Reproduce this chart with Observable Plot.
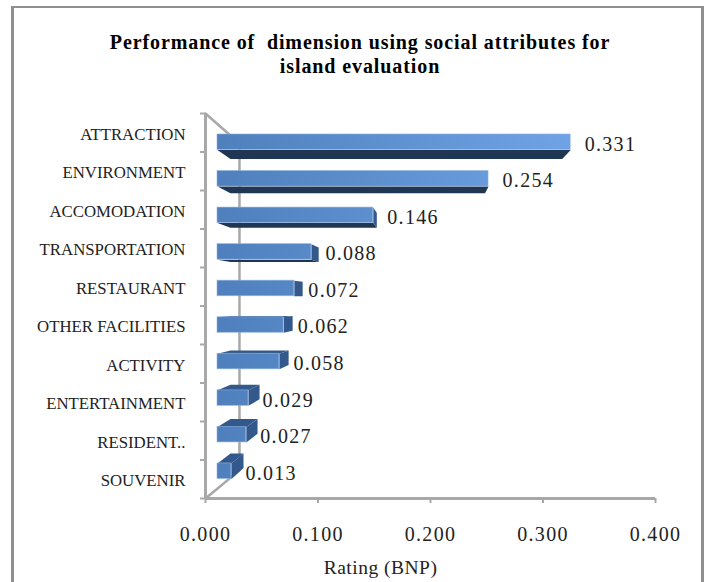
<!DOCTYPE html>
<html>
<head>
<meta charset="utf-8">
<script src="https://cdn.jsdelivr.net/npm/d3@7"></script>
<script src="https://cdn.jsdelivr.net/npm/@observablehq/plot@0.6"></script>
<style>
  html, body { margin: 0; padding: 0; background: #fff; overflow: hidden; }
  #frame { position: absolute; left: 11px; top: 6px; width: 687px; height: 600px;
           border: 3px solid #8f8f8f; border-top-width: 2px; pointer-events: none; }
  #title { height: 80px; box-sizing: border-box; padding-top: 30px; width: 720px;
           text-align: center; font: bold 20px/24px "Liberation Serif", serif; letter-spacing: 0.9px;
           color: #000; }
  #chart { display: block; }
  #chart svg { display: block; overflow: visible; }
  #chart g[font-size="20"] text { letter-spacing: 1.3px; }
  #chart g[font-size="19.5"] text { letter-spacing: 0.5px; }
</style>
</head>
<body>
<div id="frame"></div>
<div id="title">Performance of&nbsp; dimension using social attributes for<br>island evaluation</div>
<div id="chart"></div>
<script>
const categories = ["ATTRACTION", "ENVIRONMENT", "ACCOMODATION", "TRANSPORTATION", "RESTAURANT",
  "OTHER FACILITIES", "ACTIVITY", "ENTERTAINMENT", "RESIDENT..", "SOUVENIR"];
const ratings = [0.331, 0.254, 0.146, 0.088, 0.072, 0.062, 0.058, 0.029, 0.027, 0.013];
const xTicks = [0, 0.1, 0.2, 0.3, 0.4];
const bandEdges = d3.range(categories.length + 1);
const xTitle = "Rating (BNP)";

// 3-D look: the front plane is a slightly reduced copy of the axis plane,
// the far end of each bar recedes toward a vanishing point.
const front = {x0: 0.01067, kx: 0.9485, y0: 0.545, ky: 0.9494, h: 0.403};
const vanish = {x: 0.2009, y: 4.805, k: 0.0607};
const wall = {x: 0.0302, y1: 0.78, y2: 9.27};

const rows = ratings.map((v, i) => ({
  name: categories[i], v, i,
  x1: front.x0,
  x2: front.x0 + front.kx * v,
  y1: front.y0 + front.ky * i,
  y2: front.y0 + front.ky * i + front.h
}));
const back = ([x, y]) => [x + (vanish.x - x) * vanish.k, y + (vanish.y - y) * vanish.k];

const faces = [];
function addFace(id, shade, corners) {
  corners.forEach(([x, y]) => faces.push({id, shade, x, y}));
}
rows.forEach((r) => {
  const tl = [r.x1, r.y1], tr = [r.x2, r.y1], bl = [r.x1, r.y2], br = [r.x2, r.y2];
  if (r.y2 < vanish.y) addFace("b" + r.i, "dark", [bl, br, back(br), back(bl)]);
  if (r.y1 > vanish.y) addFace("t" + r.i, "mid", [tl, tr, back(tr), back(tl)]);
  if (r.x2 < vanish.x) addFace("r" + r.i, "mid", [tr, br, back(br), back(tr)]);
});

const gridColor = "#a8a8a8";
const serif = "Liberation Serif";

const gradient = (index, {x}) => {
  const defs = d3.create("svg:defs");
  const g = defs.append("linearGradient").attr("id", "barFade")
    .attr("gradientUnits", "userSpaceOnUse")
    .attr("x1", x(front.x0)).attr("x2", x(front.x0 + front.kx * d3.max(ratings)))
    .attr("y1", 0).attr("y2", 0);
  g.append("stop").attr("offset", 0).attr("stop-color", "#4f80bd");
  g.append("stop").attr("offset", 1).attr("stop-color", "#6fa3e6");
  return defs.node();
};

const chart = Plot.plot({
  width: 704, height: 502,
  marginLeft: 205, marginRight: 49, marginTop: 33, marginBottom: 84,
  style: {background: "transparent"},
  x: {domain: [0, 0.4]},
  y: {domain: [0, 10], range: [33, 418]},
  marks: [
    gradient,
    // chart box: back wall and receding edges
    Plot.line([[0, 0], [wall.x, wall.y1], [wall.x, wall.y2], [0, 10]], {stroke: gridColor, strokeWidth: 2.5}),
    Plot.ruleX([0], {y1: 0, y2: 10, stroke: gridColor, strokeWidth: 3}),
    Plot.ruleY([10], {x1: 0, x2: 0.4, stroke: gridColor, strokeWidth: 3}),
    Plot.axisX({ticks: xTicks, tickSize: 5, tickPadding: 23, tickFormat: (d) => d.toFixed(3), label: null,
      stroke: gridColor, strokeWidth: 2, fill: "#222", fontSize: 20, fontFamily: serif, anchor: "bottom"}),
    Plot.axisY({ticks: bandEdges, tickSize: 5, tickFormat: () => "", label: null,
      stroke: gridColor, strokeWidth: 2, anchor: "left"}),
    // bars
    Plot.line(faces.filter((d) => d.shade === "dark"), {x: "x", y: "y", z: "id", fill: "#1f3753", stroke: "none"}),
    Plot.line(faces.filter((d) => d.shade === "mid"), {x: "x", y: "y", z: "id", fill: "#33598c", stroke: "none"}),
    Plot.rect(rows, {x1: "x1", x2: "x2", y1: "y1", y2: "y2", fill: "url(#barFade)",
      stroke: "#8fb2dd", strokeWidth: 0.8, strokeOpacity: 0.7}),
    // labels
    Plot.text(rows, {x: 0, y: (d) => d.i + 0.5, text: "name", textAnchor: "end", dx: -20, dy: 1.5,
      fontSize: 16.8, fontFamily: serif, fill: "#222"}),
    Plot.text(rows, {x: "x2", y: (d) => (d.y1 + d.y2) / 2, text: (d) => d.v.toFixed(3), textAnchor: "start",
      dx: 14, dy: 2, fontSize: 20, fontFamily: serif, fill: "#222"}),
    Plot.text([xTitle], {x: 0.1556, y: 10, text: (d) => d, dy: 69, fontSize: 19.5, fontFamily: serif, fill: "#222"})
  ]
});
document.getElementById("chart").appendChild(chart);
</script>
</body>
</html>
